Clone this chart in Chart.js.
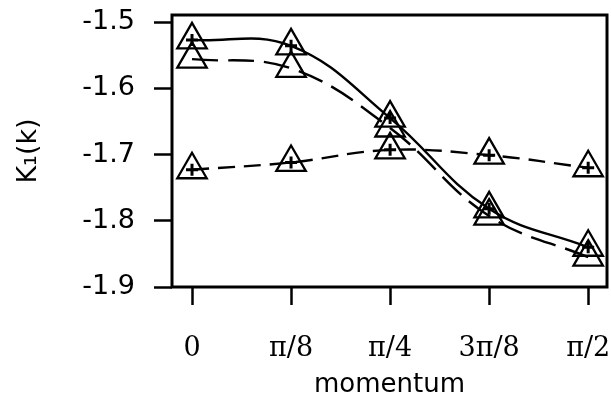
<!DOCTYPE html>
<html><head><meta charset="utf-8">
<script src="https://cdn.jsdelivr.net/npm/chart.js@4/dist/chart.umd.min.js"></script>
<style>html,body{margin:0;padding:0;background:#fff}#wrap{width:611px;height:415px;position:relative}</style>
</head><body><div id="wrap"><canvas id="c"></canvas></div>
<script>
const xPositions = [0, 1, 2, 3, 4];
const tickLabels = ['0', 'π/8', 'π/4', '3π/8', 'π/2'];
const yTicks = [-1.9, -1.8, -1.7, -1.6, -1.5];
const solidSeries = [-1.527, -1.536, -1.645, -1.782, -1.840];
const longDashSeries = [-1.556, -1.570, -1.660, -1.793, -1.855];
const shortDashSeries = [-1.723, -1.712, -1.693, -1.701, -1.720];

const pts = arr => arr.map((v, i) => ({x: xPositions[i], y: v}));

const PAD = {left: 5, top: 15, right: 4, bottom: 6};
const AREA_LEFT = 172, AREA_BOTTOM = 287, H = 415;

const boxPlugin = {
  id: 'box',
  beforeDatasetsDraw(chart) {
    const {ctx, chartArea: a} = chart;
    ctx.save();
    ctx.lineWidth = 3;
    ctx.strokeStyle = '#000';
    ctx.strokeRect(a.left, a.top, a.right - a.left, a.bottom - a.top);
    ctx.restore();
  }
};

const lineDs = (data, dash) => ({
  data: pts(data), borderColor: '#000', borderWidth: 2.4, borderDash: dash,
  tension: 0.4, pointStyle: 'triangle', pointRadius: 17, pointBorderWidth: 2.3,
  pointBorderColor: '#000', pointBackgroundColor: 'rgba(0,0,0,0)', fill: false, clip: false
});
const crossDs = (data) => ({
  data: pts(data), showLine: false, pointStyle: 'cross', pointRadius: 6,
  pointBorderWidth: 3, pointBorderColor: '#000', borderColor: '#000', clip: false
});

new Chart(document.getElementById('c'), {
  type: 'line',
  data: {
    datasets: [
      lineDs(solidSeries, []),
      lineDs(longDashSeries, [26, 10]),
      lineDs(shortDashSeries, [17, 9]),
      crossDs(solidSeries),
      crossDs(shortDashSeries)
    ]
  },
  plugins: [boxPlugin],
  options: {
    responsive: true, maintainAspectRatio: false, animation: false, events: [],
    layout: {padding: PAD, autoPadding: false},
    plugins: {legend: {display: false}, tooltip: {enabled: false}},
    scales: {
      x: {
        type: 'linear', min: -0.202, max: 4.19,
        afterBuildTicks: s => { s.ticks = xPositions.map(v => ({value: v})); },
        afterFit: s => { s.height = H - PAD.bottom - AREA_BOTTOM; s.paddingLeft = 0; s.paddingRight = 0; },
        grid: {drawOnChartArea: false, drawTicks: true, tickLength: 18, tickWidth: 2.5, tickColor: '#000'},
        border: {display: false},
        ticks: {
          color: '#000', padding: 28, maxRotation: 0, autoSkip: false,
          font: {family: 'DejaVu Serif', size: 27},
          callback: v => tickLabels[xPositions.indexOf(v)]
        },
        title: {display: true, text: 'momentum', color: '#000',
          font: {family: 'DejaVu Sans', size: 26}, padding: {top: 0, bottom: 8}}
      },
      y: {
        type: 'linear', min: -1.9, max: -1.4894,
        afterBuildTicks: s => { s.ticks = yTicks.map(v => ({value: v})); },
        afterFit: s => { s.width = AREA_LEFT - PAD.left; s.paddingTop = 0; s.paddingBottom = 0; },
        grid: {drawOnChartArea: false, drawTicks: true, tickLength: 18, tickWidth: 2.5, tickColor: '#000'},
        border: {display: false},
        ticks: {
          color: '#000', padding: 19, autoSkip: false,
          font: {family: 'DejaVu Sans', size: 27},
          callback: v => v.toFixed(1)
        },
        title: {display: true, text: 'K₁(k)', color: '#000',
          font: {family: 'DejaVu Sans', size: 27}, padding: {top: 8, bottom: 0}}
      }
    }
  }
});
</script>
</body></html>
